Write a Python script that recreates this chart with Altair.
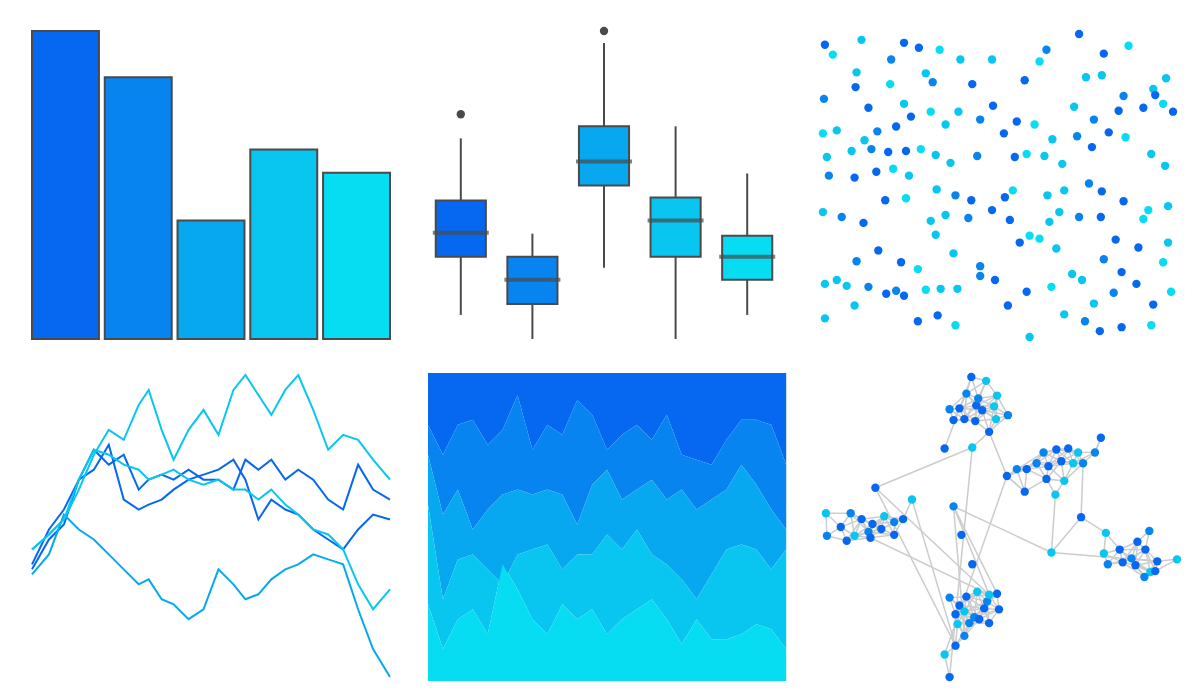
import altair as alt
import pandas as pd
from math import hypot

PAL = ["#0668f0", "#0884f0", "#07a8f0", "#08c6f0", "#06dcf2"]
W, H = 358, 308

# --- bars
bar_cat = ["a", "b", "c", "d", "e"]
bar_val = [1.0, 0.85, 0.385, 0.615, 0.54]

# --- boxplots (values = distance from bottom of panel)
box_cat = ["a", "b", "c", "d", "e"]
box_lo = [24, 0, 71, 0, 24]
box_q1 = [82, 35, 153, 82, 59]
box_med = [106, 59, 177, 118, 82]
box_q3 = [138, 82, 212, 141, 103]
box_hi = [200, 105, 295, 212, 165]
out_cat = ["a", "c"]
out_val = [224, 307]

# --- scatter (pixel-like coords, color index)
sc_x = [818, 826, 855, 850, 885, 898, 913, 934, 955, 987, 1042, 1075, 1100, 1125, 1163, 1150,
        817, 849, 862, 884, 898, 920, 927, 967, 1020, 1035, 1082, 1098, 1120, 1152, 1170,
        816, 830, 858, 871, 890, 905, 925, 940, 953, 975, 988, 1012, 1030, 1048, 1070, 1090, 1115, 1140, 1160,
        820, 845, 865, 882, 900, 915, 930, 945, 972, 999, 1010, 1022, 1040, 1058, 1073, 1088, 1105, 1122, 1148, 1162,
        822, 848, 870, 887, 903, 931, 950, 966, 1000, 1008, 1043, 1060, 1085, 1098, 1120, 1145, 1165,
        816, 835, 857, 879, 900, 925, 940, 963, 987, 1005, 1025, 1045, 1055, 1075, 1097, 1112, 1140, 1165,
        830, 850, 872, 895, 912, 930, 948, 975, 990, 1015, 1035, 1052, 1078, 1100, 1118, 1135, 1160,
        818, 840, 862, 880, 898, 920, 935, 952, 975, 1003, 1022, 1047, 1068, 1090, 1110, 1133, 1150, 1168,
        818, 848, 890, 912, 932, 950, 1025, 1060, 1081, 1096, 1118, 1148]
sc_y = [37, 47, 32, 65, 52, 35, 40, 42, 52, 52, 42, 26, 46, 38, 71, 82,
        92, 80, 101, 77, 97, 66, 75, 77, 73, 54, 70, 68, 89, 88, 105,
        127, 124, 134, 125, 120, 110, 105, 118, 105, 113, 99, 115, 118, 133, 100, 113, 104, 101, 97,
        151, 145, 143, 146, 145, 143, 149, 157, 150, 127, 151, 148, 150, 158, 130, 141, 126, 131, 148, 160,
        170, 172, 166, 163, 170, 184, 190, 195, 192, 185, 190, 185, 178, 186, 196, 205, 201,
        207, 212, 218, 195, 193, 216, 210, 213, 205, 215, 231, 217, 207, 212, 212, 235, 214, 238,
        276, 257, 246, 258, 265, 230, 249, 262, 276, 238, 234, 244, 276, 255, 268, 243, 258,
        280, 282, 283, 290, 292, 286, 285, 285, 272, 302, 288, 283, 270, 300, 289, 280, 301, 288,
        315, 302, 287, 318, 312, 322, 334, 311, 318, 328, 324, 322]
sc_c = [(i * 7 + i // 3) % 4 for i in range(len(sc_x))]

# --- random walks
lx = [28, 45, 60, 75, 90, 105, 120, 135, 145, 158, 170, 185, 200, 215, 230, 242, 255, 268, 282, 295, 310, 325, 340, 355, 370, 387]
walk_a = [540, 525, 510, 480, 445, 420, 430, 395, 380, 420, 450, 420, 400, 425, 380, 365, 385, 405, 380, 365, 400, 440, 425, 430, 450, 470]
walk_b = [555, 520, 500, 470, 440, 455, 445, 480, 470, 465, 470, 460, 470, 470, 480, 450, 460, 450, 470, 460, 470, 490, 500, 455, 480, 490]
walk_c = [565, 545, 505, 520, 530, 545, 560, 575, 570, 590, 595, 610, 600, 560, 575, 590, 585, 570, 560, 555, 545, 550, 555, 600, 640, 668]
walk_d = [560, 530, 515, 470, 460, 435, 490, 500, 495, 490, 480, 470, 465, 460, 450, 470, 510, 490, 500, 505, 520, 530, 540, 520, 505, 510]
walk_e = [540, 525, 510, 470, 440, 445, 455, 460, 470, 465, 460, 470, 475, 470, 480, 480, 490, 480, 495, 505, 520, 525, 540, 575, 600, 580]
walks = [walk_b, walk_d, walk_c, walk_a, walk_e]
walk_col = [PAL[0], PAL[0], PAL[2], PAL[3], PAL[3]]

# --- stacked areas: boundaries in pixel-like coords
ax_ = [422 + i * 14.8 for i in range(25)]
b1 = [415, 445, 415, 410, 435, 420, 385, 440, 415, 425, 390, 405, 440, 425, 415, 430, 405, 445, 450, 455, 430, 410, 410, 415, 455]
b2 = [445, 505, 480, 520, 500, 485, 480, 485, 480, 485, 515, 475, 460, 490, 480, 470, 490, 480, 500, 490, 480, 455, 475, 500, 520]
b3 = [495, 590, 550, 545, 560, 575, 545, 540, 535, 560, 545, 545, 525, 540, 520, 545, 555, 570, 590, 565, 540, 535, 540, 560, 540]
b4 = [595, 640, 610, 600, 625, 555, 580, 610, 625, 595, 610, 600, 625, 610, 600, 590, 610, 635, 610, 630, 630, 625, 615, 620, 640]

# --- network nodes
nx_ = [962, 977, 957, 950, 967, 988, 940, 955, 973, 985, 999, 944, 966, 987, 969, 980, 935, 963,
       1035, 1048, 1060, 1070, 1028, 1040, 1053, 1065, 1075, 1018, 1038, 1056, 1087, 1093, 1016, 1047, 1008, 998,
       865, 902, 840, 851, 862, 874, 884, 893, 830, 844, 858, 871, 884, 815, 816, 836, 860,
       1098, 1142, 1130, 1112, 1096, 1124, 1138, 1150, 1170, 1100, 1115, 1128, 1143, 1137, 1148, 1073, 1043,
       940, 950, 957, 968, 978, 988, 946, 955, 965, 975, 990, 948, 960, 970, 980, 935, 955, 940, 946, 980, 944, 952, 963]
ny_ = [364, 368, 381, 396, 393, 383, 397, 407, 398, 394, 403, 408, 409, 407, 386, 420, 437, 436,
       441, 438, 437, 441, 452, 455, 450, 452, 452, 458, 468, 470, 441, 426, 481, 484, 458, 465,
       477, 489, 503, 509, 514, 506, 512, 509, 517, 526, 522, 519, 525, 503, 526, 531, 528,
       523, 521, 532, 540, 544, 549, 540, 552, 550, 555, 553, 556, 563, 568, 562, 507, 543,
       589, 597, 588, 583, 593, 585, 606, 603, 609, 600, 601, 616, 615, 611, 615, 647, 628, 670, 638, 586, 496, 525, 555]
ncol = [(i * 5 + i // 4) % 3 for i in range(len(nx_))]
bridges = [(16, 0), (17, 87), (15, 35), (35, 18), (34, 27), (36, 88), (37, 88), (89, 52), (89, 36), (89, 90),
           (90, 86), (90, 75), (68, 69), (68, 53), (69, 33), (69, 90), (31, 30), (68, 26), (32, 35), (69, 60), (17, 36), (35, 85)]

edges = []
for i in range(len(nx_)):
    for j in range(i + 1, len(nx_)):
        if hypot(nx_[i] - nx_[j], ny_[i] - ny_[j]) < 27:
            edges.append((i, j))
edges += bridges

ax_off = dict(axis=None)
noscale = dict(nice=False, zero=False)

bars = alt.Chart(pd.DataFrame({"c": bar_cat, "v": bar_val})).mark_bar(
    stroke="#4a4a4a", strokeWidth=2
).encode(
    x=alt.X("c:N", axis=None, scale=alt.Scale(paddingInner=0.08, paddingOuter=0)),
    y=alt.Y("v:Q", axis=None, scale=alt.Scale(domain=[0, 1])),
    color=alt.Color("c:N", scale=alt.Scale(range=PAL), legend=None),
).properties(width=W, height=H)

bdf = pd.DataFrame({"c": box_cat, "lo": box_lo, "q1": box_q1, "med": box_med, "q3": box_q3, "hi": box_hi})
ys = alt.Scale(domain=[0, 307], **noscale)
xb = alt.X("c:N", axis=None, scale=alt.Scale(paddingInner=0.3, paddingOuter=0.15))
wh = alt.Chart(bdf).mark_rule(color="#4a4a4a", strokeWidth=2).encode(x=xb, y=alt.Y("lo:Q", scale=ys, axis=None), y2="hi")
bx = alt.Chart(bdf).mark_bar(stroke="#4a4a4a", strokeWidth=2).encode(
    x=xb, y=alt.Y("q1:Q", scale=ys, axis=None), y2="q3",
    color=alt.Color("c:N", scale=alt.Scale(range=PAL), legend=None))
md = alt.Chart(bdf).mark_tick(color="#4a4a4a", thickness=4, size=56).encode(x=xb, y=alt.Y("med:Q", scale=ys, axis=None))
ou = alt.Chart(pd.DataFrame({"c": out_cat, "v": out_val})).mark_circle(color="#4a4a4a", size=70, opacity=1).encode(
    x=xb, y=alt.Y("v:Q", scale=ys, axis=None))
boxes = alt.layer(wh, bx, md, ou).properties(width=W, height=H)

scatter = alt.Chart(pd.DataFrame({"x": sc_x, "y": sc_y, "c": sc_c})).mark_circle(size=70, opacity=1).encode(
    x=alt.X("x:Q", axis=None, scale=alt.Scale(domain=[810, 1172], **noscale)),
    y=alt.Y("y:Q", axis=None, scale=alt.Scale(domain=[336, 23], **noscale)),
    color=alt.Color("c:N", scale=alt.Scale(range=[PAL[0], PAL[1], PAL[3], PAL[4]]), legend=None),
).properties(width=W, height=H)

rows = []
for k, w in enumerate(walks):
    for x, y in zip(lx, w):
        rows.append({"s": k, "x": x, "y": y})
lines = alt.Chart(pd.DataFrame(rows)).mark_line(strokeWidth=2).encode(
    x=alt.X("x:Q", axis=None, scale=alt.Scale(domain=[28, 387], **noscale)),
    y=alt.Y("y:Q", axis=None, scale=alt.Scale(domain=[672, 363], **noscale)),
    color=alt.Color("s:N", scale=alt.Scale(domain=list(range(5)), range=walk_col), legend=None),
    detail="s:N",
).properties(width=W, height=H)

arows = []
bounds = [[363] * 25, b1, b2, b3, b4, [672] * 25]
for k in range(5):
    for i, x in enumerate(ax_):
        arows.append({"s": k, "x": x, "top": bounds[k][i], "bot": bounds[k + 1][i]})
areas = alt.Chart(pd.DataFrame(arows)).mark_area().encode(
    x=alt.X("x:Q", axis=None, scale=alt.Scale(domain=[422, 777], **noscale)),
    y=alt.Y("top:Q", axis=None, scale=alt.Scale(domain=[672, 363], **noscale)),
    y2="bot:Q",
    color=alt.Color("s:N", scale=alt.Scale(domain=list(range(5)), range=PAL), legend=None),
).properties(width=W, height=H)

erows = []
for k, (i, j) in enumerate(edges):
    erows.append({"e": k, "o": 0, "x": nx_[i], "y": ny_[i]})
    erows.append({"e": k, "o": 1, "x": nx_[j], "y": ny_[j]})
nxs = alt.Scale(domain=[810, 1172], **noscale)
nys = alt.Scale(domain=[674, 360], **noscale)
el = alt.Chart(pd.DataFrame(erows)).mark_line(color="#cccccc", strokeWidth=1.5).encode(
    x=alt.X("x:Q", axis=None, scale=nxs), y=alt.Y("y:Q", axis=None, scale=nys), detail="e:N", order="o:Q")
nd = alt.Chart(pd.DataFrame({"x": nx_, "y": ny_, "c": ncol})).mark_circle(size=70, opacity=1).encode(
    x=alt.X("x:Q", axis=None, scale=nxs), y=alt.Y("y:Q", axis=None, scale=nys),
    color=alt.Color("c:N", scale=alt.Scale(range=[PAL[0], PAL[1], PAL[3]]), legend=None))
net = alt.layer(el, nd).properties(width=W, height=H)

chart = alt.vconcat(
    alt.hconcat(bars, boxes, scatter, spacing=34).resolve_scale(color="independent"),
    alt.hconcat(lines, areas, net, spacing=34).resolve_scale(color="independent"),
    spacing=28,
).resolve_scale(color="independent").properties(
    padding={"left": 20, "top": 18, "right": 0, "bottom": 0}
).configure_view(stroke=None)

chart.save("out.html", embed_options={"renderer": "svg", "actions": False})
